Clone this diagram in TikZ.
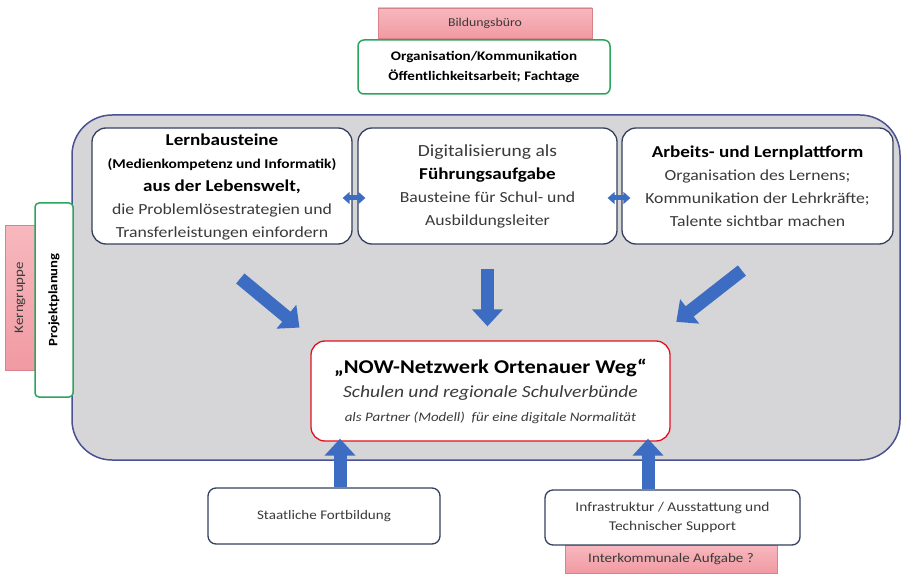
\documentclass[tikz,border=0pt]{standalone}
\usepackage{fontspec}
\setmainfont[FakeStretch=1.15]{Carlito}
\usetikzlibrary{arrows.meta,positioning,shapes}
\definecolor{boxblue}{HTML}{34405E}
\definecolor{boxgreen}{HTML}{2BA55E}
\definecolor{pinkline}{HTML}{D9828A}
\definecolor{pinktop}{HTML}{F7B8BE}
\definecolor{pinkbot}{HTML}{F19AA3}
\definecolor{frameblue}{HTML}{4A5294}
\definecolor{framegray}{HTML}{D6D6D8}
\definecolor{arrowblue}{HTML}{3C6DC2}
\definecolor{nowred}{HTML}{E3101E}
\definecolor{textgray}{HTML}{3A3A3A}
\tikzset{
    box/.style = {draw=boxblue, fill=white, rounded corners=14pt,
        line width=1.3pt, align=center, text=textgray},
    greenbox/.style = {draw=boxgreen, fill=white, rounded corners=6pt,
        line width=1.5pt, align=center},
    pinkbox/.style = {draw=pinkline, top color=pinktop, bottom color=pinkbot,
        align=center, text=textgray},
    bigarrow/.style = {line width=13pt, draw=arrowblue,
        -{Triangle[length=17pt,width=30pt]}},
    twoarrow/.style = {line width=5pt, draw=arrowblue,
        {Triangle[length=7pt,width=12pt]}-{Triangle[length=7pt,width=12pt]}},
}
\newcommand{\fs}[2]{\fontsize{#1}{#2}\selectfont}

\begin{document}
\begin{tikzpicture}[x=1pt,y=-1pt]
		\useasboundingbox (0,0) rectangle (903,575);
		% Bildungsbuero and Organisation
		\node [pinkbox, minimum width=214pt, minimum height=30pt, font=\fs{12}{14}] (buero) at (485,23) {Bildungsbüro};
		\node [greenbox, minimum width=252pt, minimum height=54pt, font=\fs{13.1}{20}\bfseries] (orga) at (484,67) {Organisation/Kommunikation\\ Öffentlichkeitsarbeit; Fachtage};
		
		% grey frame
		\node [draw=frameblue, fill=framegray, rounded corners=40pt, line width=1.5pt, minimum width=828pt, minimum height=345pt] (rahmen) at (486,287.5) {};
		
		% Kerngruppe and Projektplanung
		\node [pinkbox, rotate=90, minimum width=145pt, minimum height=30pt, font=\fs{13}{15}] (kern) at (20,297.5) {Kerngruppe};
		\node [greenbox, rotate=90, minimum width=194pt, minimum height=38pt, rounded corners=4pt, font=\fs{12.8}{15}\bfseries] (projekt) at (54,300) {Projektplanung};
		
		% three building blocks
		\node [box, minimum width=260pt, minimum height=116pt, font=\fs{15.4}{23}, text depth=-6pt] (lern) at (222,186) {{\fontsize{16.6}{23}\selectfont\bfseries\color{black} Lernbausteine}\\ {\fontsize{13.4}{23}\selectfont\bfseries\color{black} (Medienkompetenz und Informatik)}\\ {\fontsize{16.6}{23}\selectfont\bfseries\color{black} aus der Lebenswelt,}\\ die Problemlösestrategien und\\ Transferleistungen einfordern};
		\node [box, minimum width=259pt, minimum height=116pt, font=\fs{15.4}{23}] (dig) at (487.5,186) {{\fontsize{17}{23}\selectfont Digitalisierung als}\\ {\fontsize{16.6}{23}\selectfont\bfseries\color{black} Führungsaufgabe}\\ Bausteine für Schul- und\\ Ausbildungsleiter};
		\node [box, minimum width=271pt, minimum height=116pt, font=\fs{15.4}{23}] (arbeit) at (757.5,186) {{\fontsize{16.6}{23}\selectfont\bfseries\color{black} Arbeits- und Lernplattform}\\ Organisation des Lernens;\\ Kommunikation der Lehrkräfte;\\ Talente sichtbar machen};
		
		% NOW network
		\node [box, draw=nowred, minimum width=359pt, minimum height=100pt, font=\fs{14}{24}] (now) at (490.5,391) {{\fontsize{19.5}{24}\selectfont\bfseries\color{black} „NOW-Netzwerk Ortenauer Weg“}\\ {\fontsize{17}{24}\selectfont\itshape Schulen und regionale Schulverbünde}\\ {\fontsize{13}{24}\selectfont\itshape als Partner (Modell)\ \ für eine digitale Normalität}};
		
		% bottom boxes
		\node [box, rounded corners=8pt, minimum width=232pt, minimum height=56pt, font=\fs{13.1}{16}] (fortb) at (324,516) {Staatliche Fortbildung};
		\node [pinkbox, minimum width=212pt, minimum height=28pt, font=\fs{13.1}{15}] (kommunal) at (671,559) {Interkommunale Aufgabe ?};
		\node [box, rounded corners=8pt, minimum width=255pt, minimum height=55pt, font=\fs{13.4}{19}] (infra) at (672.5,517.5) {Infrastruktur / Ausstattung und\\ Technischer Support};
		
		% connecting arrows
		\draw [twoarrow] ([xshift=-10pt,yshift=-12pt]lern.east) -- ([xshift=8pt,yshift=-12pt]dig.west);
		\draw [twoarrow] ([xshift=-10pt,yshift=-12pt]dig.east) -- ([xshift=9pt,yshift=-12pt]arbeit.west);
		\draw [bigarrow, shorten <=53pt, shorten >=20pt] ([xshift=-22.5pt]lern.south) -- ([xshift=4.5pt]now.north west);
		\draw [bigarrow, shorten <=24pt, shorten >=14pt] (dig.south) -- (dig.south |- now.north);
		\draw [bigarrow, shorten <=42pt, shorten >=30pt] ([xshift=17.5pt]arbeit.south) -- ([xshift=-18pt]now.north east);
		\draw [bigarrow, shorten >=-3pt] ([xshift=16pt]fortb.north) -- ([xshift=16pt]fortb.north |- now.south);
		\draw [bigarrow, shorten >=-3pt] ([xshift=-24.5pt]infra.north) -- ([xshift=-24.5pt]infra.north |- now.south);
	\end{tikzpicture}
\end{document}
